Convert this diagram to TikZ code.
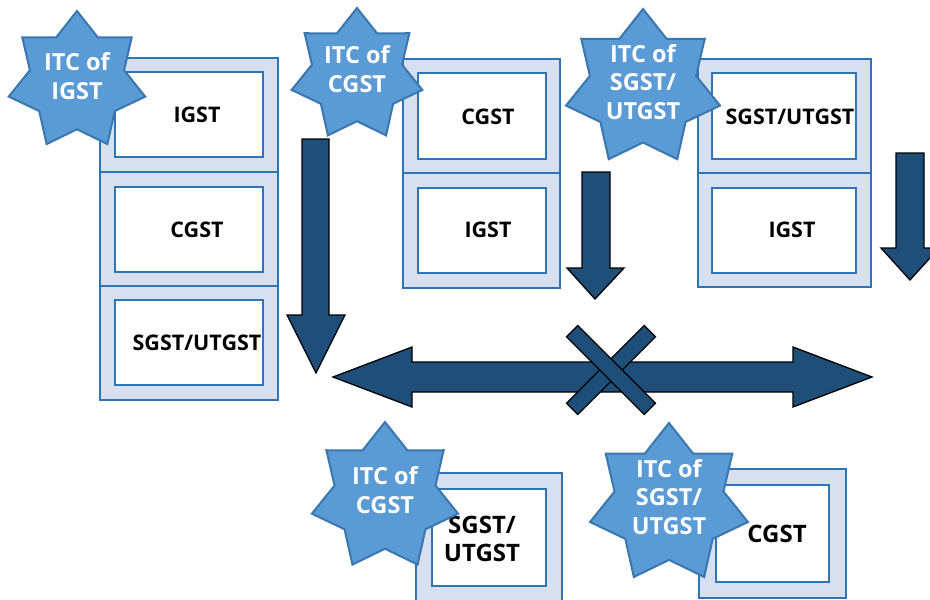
\documentclass[tikz,border=0pt]{standalone}
\usepackage{fontspec}
\setmainfont{Open Sans}
\usetikzlibrary{shapes.geometric}

\definecolor{boxline}{HTML}{2E75B6}
\definecolor{boxfill}{HTML}{D6E0EF}
\definecolor{starfill}{HTML}{5B9BD5}
\definecolor{starline}{HTML}{3A76B0}
\definecolor{arrowfill}{HTML}{1F4E79}

\tikzset{
	outerbox/.style={draw=boxline, fill=boxfill, line width=2.2pt},
	innerbox/.style={draw=boxline, fill=white, line width=2.2pt},
	taxlabel/.style={font=\fontsize{21.5}{28}\selectfont\bfseries, align=center, inner sep=0pt},
	biglabel/.style={taxlabel, font=\fontsize{24}{28.5}\selectfont\bfseries},
	itcstar/.style={star, star points=7, star point ratio=1.45, draw=starline, fill=starfill, line width=2pt, inner sep=0pt},
	itctext/.style={text=white, font=\fontsize{23.5}{28.5}\selectfont\bfseries, align=center, inner sep=0pt},
	bigarrow/.style={draw=black, fill=arrowfill, line width=1.3pt, line join=miter}
}

\begin{document}
\begin{tikzpicture}[x=1pt, y=-1pt]
		\useasboundingbox (0,0) rectangle (930,600);
		
		% first column
		\filldraw[outerbox] (100,58) rectangle (278,172);
		\filldraw[outerbox] (100,172) rectangle (278,286);
		\filldraw[outerbox] (100,286) rectangle (278,400);
		\filldraw[innerbox] (115,72) rectangle (263,157);
		\filldraw[innerbox] (115,187) rectangle (263,272);
		\filldraw[innerbox] (115,300) rectangle (263,385);
		\node[taxlabel] (igst1) at (197,115) {IGST};
		\node[taxlabel] (cgst1) at (197,230) {CGST};
		\node[taxlabel] (sgst1) at (197,343) {SGST/UTGST};
		
		% second column
		\filldraw[outerbox] (403,59) rectangle (560,173);
		\filldraw[outerbox] (403,173) rectangle (560,288);
		\filldraw[innerbox] (418,73) rectangle (546,159);
		\filldraw[innerbox] (418,188) rectangle (546,273);
		\node[taxlabel] (cgst2) at (488,117) {CGST};
		\node[taxlabel] (igst2) at (488,230) {IGST};
		
		% third column
		\filldraw[outerbox] (698,59) rectangle (871,173);
		\filldraw[outerbox] (698,173) rectangle (871,287);
		\filldraw[innerbox] (712,73) rectangle (856,159);
		\filldraw[innerbox] (712,188) rectangle (856,273);
		\node[taxlabel] (sgst3) at (790,117) {SGST/UTGST};
		\node[taxlabel] (igst3) at (792,230) {IGST};
		
		% bottom row
		\filldraw[outerbox] (416,473) rectangle (562,603);
		\filldraw[innerbox] (432,489) rectangle (546,586);
		\node[biglabel] (sgst4) at (482,539) {SGST/\\UTGST};
		\filldraw[outerbox] (699,469) rectangle (846,598);
		\filldraw[innerbox] (716,485) rectangle (829,582);
		\node[biglabel] (cgst5) at (777,534) {CGST};
		
		% stars
		\node[itcstar, minimum size=140pt] (itc1) at (77,81) {};
		\node[itctext] at ([yshift=5pt]itc1.center) {ITC of\\IGST};
		\node[itcstar, minimum size=134pt] (itc2) at (357,75) {};
		\node[itctext] at ([yshift=6pt]itc2.center) {ITC of\\CGST};
		\node[itcstar, minimum size=158pt] (itc3) at (643,88) {};
		\node[itctext] at ([yshift=6pt]itc3.center) {ITC of\\SGST/\\UTGST};
		\node[itcstar, minimum size=150pt] (itc4) at (385,497) {};
		\node[itctext] at ([yshift=7pt]itc4.center) {ITC of\\CGST};
		\node[itcstar, minimum size=162pt] (itc5) at (669,504) {};
		\node[itctext] at ([yshift=7pt]itc5.center) {ITC of\\SGST/\\UTGST};
		
		% down arrows
		\filldraw[bigarrow] (302,139) -- (329,139) -- (329,315) -- (345,315) -- (316,373) -- (287,315) -- (302,315) -- cycle;
		\filldraw[bigarrow] (582,172) -- (610,172) -- (610,268) -- (624,268) -- (595,299) -- (567,268) -- (582,268) -- cycle;
		\filldraw[bigarrow] (896,153) -- (924,153) -- (924,248) -- (939,248) -- (910,280) -- (881,248) -- (896,248) -- cycle;
		
		% both ways arrow
		\filldraw[bigarrow] (333,377) -- (412,347) -- (412,362) -- (793,362) -- (793,347) -- (872,377) -- (793,407) -- (793,392) -- (412,392) -- (412,407) -- cycle;
		
		% cross
		\filldraw[bigarrow, rotate around={45:(611,370)}] (556,362) rectangle (666,378);
		\filldraw[bigarrow, rotate around={-45:(611,370)}] (556,362) rectangle (666,378);
\end{tikzpicture}
\end{document}
